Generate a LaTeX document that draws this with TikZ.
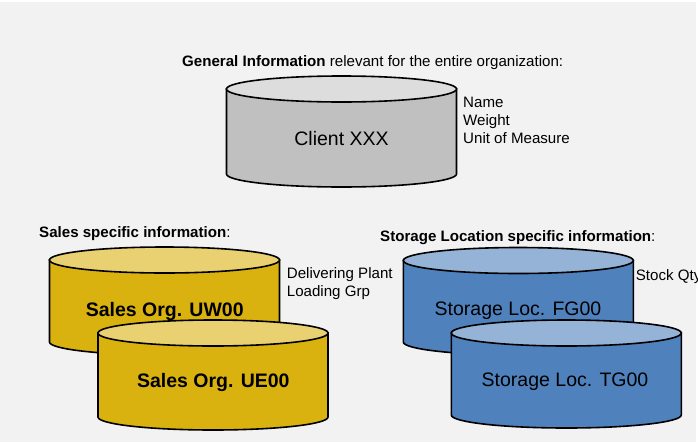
\documentclass[tikz,border=0pt]{standalone}
\usepackage{fontspec}
\setmainfont{Liberation Sans}
\usetikzlibrary{positioning}

\definecolor{pagegray}{HTML}{F2F2F2}
\definecolor{clientside}{HTML}{C0C0C0}
\definecolor{clienttop}{HTML}{DDDDDD}
\definecolor{salesside}{HTML}{D9B20F}
\definecolor{salestop}{HTML}{E9D172}
\definecolor{storeside}{HTML}{4F81BD}
\definecolor{storetop}{HTML}{95B3D7}

% drum: centre x, top y, bottom y, side colour, top colour
\newcommand{\drum}[5]{%
  \filldraw[drumline,fill=#4] ({#1-115},#2) -- ({#1-115},#3)
    arc[start angle=180,end angle=360,x radius=115pt,y radius=13pt]
    -- ({#1+115},#2) -- cycle;
  \filldraw[drumline,fill=#5] (#1,#2) ellipse[x radius=115pt,y radius=13pt];
}

\tikzset{
  drumline/.style={draw=black,line width=1.6pt},
  heading/.style={anchor=base west,inner sep=0pt,font=\fontsize{15.1}{18}\selectfont},
  attrib/.style={anchor=base west,inner sep=0pt,align=left,font=\fontsize{15.1}{18}\selectfont},
  drumtext/.style={anchor=base,inner sep=0pt,font=\fontsize{19.5}{23}\selectfont},
}

\begin{document}
\begin{tikzpicture}[x=1pt,y=-1pt]
  % Background
  \useasboundingbox (0,0) rectangle (698,442);
  \fill[pagegray] (0,0) rectangle (698,442);
  \fill[white] (0,0) rectangle (698,2);
  \fill[white] (696,0) rectangle (698,442);

  % Client level
  \node[heading] (genhead) at (182,66.7)
    {\textbf{General Information} relevant for the entire organization:};
  \drum{341.5}{89}{174}{clientside}{clienttop}
  \node[drumtext] (client) at (341.5,145) {Client XXX};
  \node[attrib] (clientattr) at (463,143.3) {Name\\Weight\\Unit of Measure};

  % Sales organizations
  \node[heading] (saleshead) at (39,237.3) {\textbf{Sales specific information}:};
  \drum{164.5}{260}{342}{salesside}{salestop}
  \node[drumtext,font=\fontsize{19.5}{23}\selectfont\bfseries] (uw) at (164.7,316) {Sales Org. UW00};
  \drum{213}{333}{417}{salesside}{salestop}
  \node[drumtext,font=\fontsize{19.5}{23}\selectfont\bfseries] (ue) at (213.3,387.7) {Sales Org. UE00};
  \node[attrib] (salesattr) at (286.7,296.7) {Delivering Plant\\Loading Grp};

  % Storage locations
  \node[heading] (storehead) at (380,241) {\textbf{Storage Location specific information}:};
  \drum{518.3}{260.5}{342}{storeside}{storetop}
  \node[drumtext] (fg) at (518,315) {Storage Loc. FG00};
  \drum{566.3}{333}{415}{storeside}{storetop}
  \node[drumtext] (tg) at (565,386.7) {Storage Loc. TG00};
  \node[attrib] (storeattr) at (635.7,280) {Stock Qty};
\end{tikzpicture}
\end{document}
